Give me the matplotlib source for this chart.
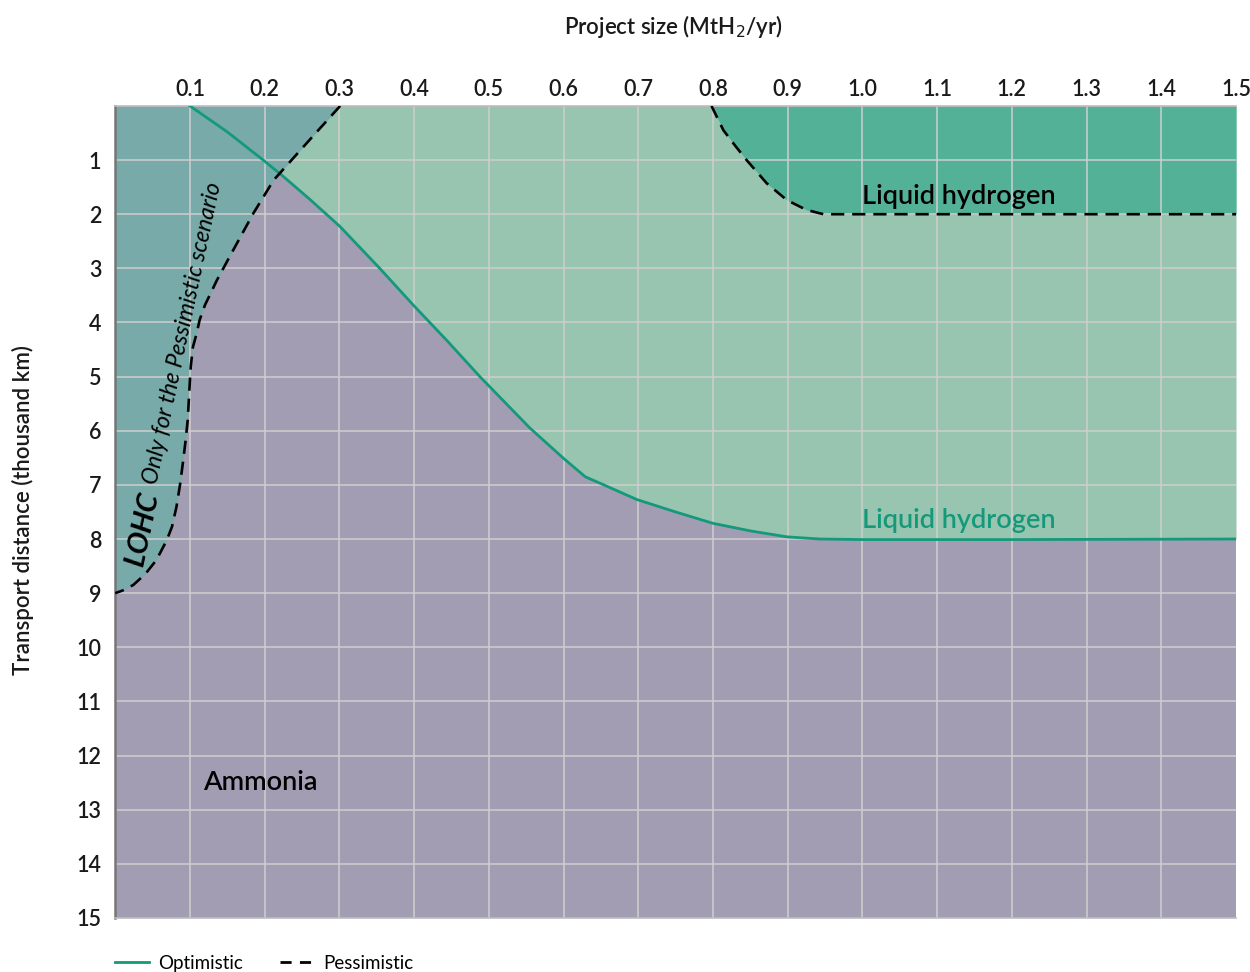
import matplotlib
matplotlib.use("Agg")
import matplotlib.pyplot as plt
from matplotlib.lines import Line2D

plt.rcParams["font.family"] = ["Lato", "DejaVu Sans"]

# project size (MtH2/yr) vs transport distance (thousand km) boundaries
opt_x = [0.100, 0.150, 0.198, 0.223, 0.260, 0.301, 0.354, 0.399, 0.445, 0.488,
         0.555, 0.600, 0.629, 0.649, 0.698, 0.750, 0.800, 0.850, 0.899, 0.943,
         1.000, 1.200, 1.500]
opt_y = [0.00, 0.48, 1.00, 1.28, 1.72, 2.23, 3.00, 3.68, 4.35, 5.00,
         5.95, 6.51, 6.85, 6.97, 7.27, 7.50, 7.71, 7.85, 7.96, 8.00,
         8.01, 8.01, 8.00]

lohc_x = [0.301, 0.256, 0.223, 0.212, 0.185, 0.158, 0.136, 0.120, 0.113, 0.109,
          0.104, 0.101, 0.099, 0.097, 0.094, 0.091, 0.087, 0.082, 0.076, 0.069,
          0.055, 0.040, 0.024, 0.010, 0.000]
lohc_y = [0.00, 0.69, 1.20, 1.37, 1.98, 2.66, 3.22, 3.68, 3.95, 4.20,
          4.45, 4.82, 5.30, 5.80, 6.20, 6.54, 6.97, 7.40, 7.77, 8.02,
          8.39, 8.65, 8.85, 8.95, 9.00]

lh2_x = [0.798, 0.814, 0.830, 0.845, 0.872, 0.899, 0.925, 0.948, 1.000, 1.500]
lh2_y = [0.00, 0.45, 0.74, 1.00, 1.43, 1.74, 1.92, 2.00, 2.00, 2.00]

xticks = [round(0.1 * i, 1) for i in range(1, 16)]
yticks = list(range(1, 16))

c_purple = "#a39db3"
c_light = "#98c5b0"
c_teal = "#78aaa9"
c_dark = "#52b196"
c_line = "#14997a"

fig = plt.figure(figsize=(12.5, 9.72), dpi=100)
ax = fig.add_axes([0.0922, 0.0556, 0.8966, 0.8354])
ax.set_facecolor(c_purple)

ax.fill_between(opt_x, 0, opt_y, color=c_light, lw=0, zorder=1)
ax.fill_betweenx(lohc_y, 0, lohc_x, color=c_teal, lw=0, zorder=1)
ax.fill_between(lh2_x, 0, lh2_y, color=c_dark, lw=0, zorder=1)

for x in xticks[:-1]:
    ax.axvline(x, color="#cfcfcf", lw=1.1, zorder=2)
for y in yticks[:-1]:
    ax.axhline(y, color="#cfcfcf", lw=1.1, zorder=2)

ax.plot(opt_x, opt_y, color=c_line, lw=2.0, zorder=4)
ax.plot(lohc_x, lohc_y, color="black", lw=1.9, ls=(0, (5, 3)), zorder=4)
ax.plot(lh2_x, lh2_y, color="black", lw=1.9, ls=(0, (5, 3)), zorder=4)

ax.set_xlim(0, 1.5)
ax.set_ylim(15, 0)
ax.xaxis.tick_top()
ax.set_xticks(xticks)
ax.set_xticklabels([f"{v:.1f}" for v in xticks])
ax.set_yticks(yticks)
ax.set_yticklabels([str(v) for v in yticks])
ax.tick_params(length=0, labelsize=15.5, colors="#1a1a1a")
ax.tick_params(axis="x", pad=4)
ax.tick_params(axis="y", pad=10)
for lab in ax.get_xticklabels() + ax.get_yticklabels():
    lab.set_fontweight("semibold")

for side in ["top", "right", "bottom"]:
    ax.spines[side].set_color("#bdbdbd")
    ax.spines[side].set_linewidth(1.2)
ax.spines["right"].set_visible(False)
ax.spines["left"].set_color("#777777")
ax.spines["left"].set_linewidth(1.8)

fig.text(0.539, 0.973, "Project size (MtH$_2$/yr)", ha="center", va="center",
         fontsize=16, fontweight="semibold", color="#1a1a1a")
fig.text(0.018, 0.475, "Transport distance (thousand km)", ha="center", va="center",
         rotation=90, fontsize=16, fontweight="semibold", color="#1a1a1a")

ax.text(1.0, 1.68, "Liquid hydrogen", fontsize=19.5, fontweight="semibold",
        color="black", ha="left", va="center", zorder=5)
ax.text(1.0, 7.65, "Liquid hydrogen", fontsize=19.5, fontweight="semibold",
        color=c_line, ha="left", va="center", zorder=5)
ax.text(0.117, 12.5, "Ammonia", fontsize=19.5, fontweight="semibold",
        color="black", ha="left", va="center", zorder=5)
ax.text(0.0365, 7.8, "LOHC", fontsize=21, fontweight="bold", style="italic",
        rotation=78, ha="center", va="center", zorder=5)
ax.text(0.091, 4.2, "Only for the Pessimistic scenario", fontsize=16.5,
        style="italic", rotation=78, ha="center", va="center", zorder=5)

handles = [Line2D([], [], color=c_line, lw=2.0),
           Line2D([], [], color="black", lw=2.0, ls=(0, (4, 3)))]
fig.legend(handles, ["Optimistic", "Pessimistic"], loc="center left",
           bbox_to_anchor=(0.092, 0.009), ncol=2, frameon=False, fontsize=13.5,
           handlelength=1.8, columnspacing=2.0, handletextpad=0.5,
           borderpad=0.0, borderaxespad=0.0)

fig.savefig("out.png", dpi=100)
